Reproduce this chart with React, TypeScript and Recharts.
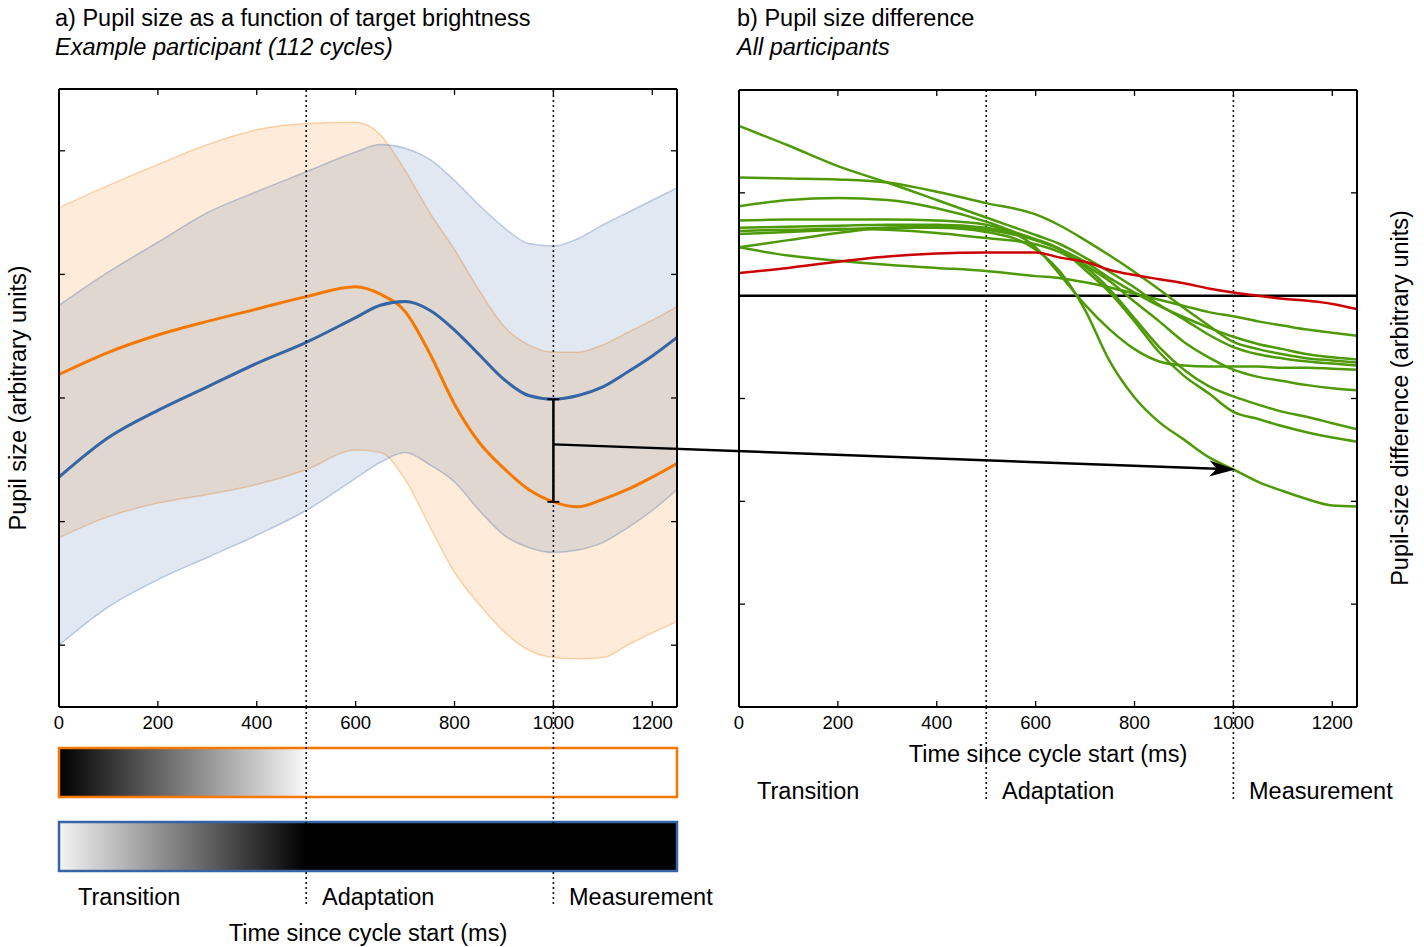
import React from 'react';
import { ComposedChart, LineChart, Line, Area, XAxis, YAxis, ReferenceLine } from 'recharts';

const FONT = '"Liberation Sans", Arial, Helvetica, sans-serif';

// shared time grid (ms since cycle start)
const times = [0, 100, 200, 300, 400, 500, 600, 650, 700, 750, 800, 850, 900, 950, 1000, 1050, 1100, 1150, 1200, 1250];
const xTicks = [0, 200, 400, 600, 800, 1000, 1200];
const phaseTimes = [500, 1000];

// a) example participant, target going to bright (orange) / to dark (blue)
const toBrightMean = [2.69, 2.87, 3.01, 3.12, 3.22, 3.32, 3.40, 3.34, 3.20, 2.86, 2.45, 2.14, 1.93, 1.76, 1.66, 1.62, 1.68, 1.76, 1.86, 1.97];
const toBrightLow = [1.37, 1.54, 1.65, 1.72, 1.80, 1.92, 2.08, 2.06, 1.84, 1.46, 1.09, 0.83, 0.61, 0.46, 0.40, 0.39, 0.40, 0.50, 0.60, 0.69];
const toBrightHigh = [4.04, 4.22, 4.39, 4.55, 4.67, 4.72, 4.73, 4.63, 4.34, 4.00, 3.70, 3.37, 3.08, 2.93, 2.87, 2.87, 2.93, 3.03, 3.13, 3.24];
const toDarkMean = [1.86, 2.18, 2.40, 2.59, 2.78, 2.95, 3.15, 3.25, 3.28, 3.21, 3.05, 2.85, 2.65, 2.52, 2.49, 2.52, 2.59, 2.71, 2.84, 2.99];
const toDarkLow = [0.50, 0.81, 1.03, 1.21, 1.39, 1.59, 1.85, 1.98, 2.06, 1.96, 1.82, 1.59, 1.39, 1.29, 1.25, 1.27, 1.33, 1.45, 1.59, 1.76];
const toDarkHigh = [3.25, 3.52, 3.76, 4.00, 4.17, 4.33, 4.49, 4.55, 4.52, 4.43, 4.26, 4.06, 3.88, 3.75, 3.73, 3.79, 3.90, 4.00, 4.10, 4.20];
const leftYTicks = [0.5, 1.5, 2.5, 3.5, 4.5];

// b) pupil-size difference per participant
const p01 = [0.60, 0.62, 0.64, 0.66, 0.66, 0.62, 0.45, 0.23, -0.14, -0.64, -0.99, -1.23, -1.40, -1.57, -1.69, -1.81, -1.90, -1.98, -2.04, -2.05];
const p02 = [0.73, 0.74, 0.74, 0.74, 0.73, 0.69, 0.47, 0.20, -0.09, -0.33, -0.52, -0.64, -0.68, -0.69, -0.69, -0.69, -0.70, -0.70, -0.71, -0.72];
const p03 = [0.66, 0.67, 0.68, 0.69, 0.69, 0.66, 0.55, 0.45, 0.25, 0.03, -0.25, -0.55, -0.78, -0.95, -1.13, -1.20, -1.27, -1.33, -1.38, -1.42];
const p04 = [0.63, 0.64, 0.65, 0.64, 0.61, 0.56, 0.50, 0.42, 0.28, 0.06, -0.22, -0.50, -0.72, -0.88, -0.98, -1.06, -1.13, -1.18, -1.24, -1.30];
const p05 = [0.87, 0.93, 0.95, 0.93, 0.85, 0.72, 0.54, 0.45, 0.30, 0.14, -0.06, -0.25, -0.45, -0.60, -0.72, -0.79, -0.83, -0.87, -0.90, -0.92];
const p06 = [1.65, 1.46, 1.26, 1.10, 0.93, 0.76, 0.59, 0.50, 0.37, 0.23, 0.08, -0.09, -0.23, -0.38, -0.50, -0.57, -0.61, -0.64, -0.66, -0.68];
const p07 = [1.15, 1.14, 1.13, 1.10, 1.01, 0.90, 0.79, 0.68, 0.54, 0.39, 0.23, 0.06, -0.12, -0.29, -0.45, -0.52, -0.57, -0.61, -0.63, -0.65];
const p08 = [0.47, 0.54, 0.61, 0.66, 0.67, 0.64, 0.54, 0.45, 0.33, 0.17, 0.03, -0.10, -0.21, -0.31, -0.40, -0.47, -0.52, -0.57, -0.60, -0.62];
const p09 = [0.47, 0.39, 0.34, 0.30, 0.27, 0.24, 0.19, 0.17, 0.13, 0.08, 0.02, -0.04, -0.10, -0.16, -0.20, -0.25, -0.29, -0.33, -0.36, -0.39];
const p10 = [0.22, 0.27, 0.33, 0.38, 0.41, 0.42, 0.42, 0.37, 0.33, 0.25, 0.20, 0.16, 0.12, 0.07, 0.03, 0.00, -0.03, -0.05, -0.08, -0.13];
const greenParticipants = [p01, p02, p03, p04, p05, p06, p07, p08, p09];
const redParticipant = p10;
const rightYTicks = [-3, -2, -1, 0, 1];

const ORANGE = '#f57900';
const BLUE = '#3465a4';
const GREEN = '#4e9a06';
const RED = '#cc0000';

// plot areas in page pixels
const CHART_H = 760;
const XAXIS_H = 40;
const LA = { left: 59, top: 89, width: 618, height: 618, yMin: 0, yMax: 5, chartX: 0, chartW: 700 };
const RA = { left: 739, top: 90, width: 618, height: 617, yMin: -4, yMax: 2, chartX: 680, chartW: 744 };

const px = (p: typeof LA, t: number) => p.left + (t / 1250) * p.width;
const py = (p: typeof LA, v: number) => p.top + ((p.yMax - v) / (p.yMax - p.yMin)) * p.height;
const marginOf = (p: typeof LA) => ({
  top: p.top,
  left: p.left - p.chartX,
  right: p.chartW - (p.left - p.chartX) - p.width,
  bottom: CHART_H - p.top - p.height - XAXIS_H,
});

const leftRows = times.map((t, i) => ({
  t,
  bright: toBrightMean[i],
  brightBand: [toBrightLow[i], toBrightHigh[i]],
  dark: toDarkMean[i],
  darkBand: [toDarkLow[i], toDarkHigh[i]],
}));

const rightRows = times.map((t, i) => {
  const row: any = { t, red: redParticipant[i] };
  greenParticipants.forEach((g, k) => (row['g' + k] = g[i]));
  return row;
});

const axisLine = { stroke: '#000', strokeWidth: 2 };
const tickLine = { stroke: '#000', strokeWidth: 1.3 };
const tickFont = { fill: '#000', fontSize: 18.5, fontFamily: FONT };
const noLabel = { fontSize: 0 };
const blank = () => '';

// matplotlib-like box: labelled bottom axis + mirrored axes for inward ticks on all four sides
function frame(yDomain: number[], yTicks: number[]) {
  const xProps = { dataKey: 't', type: 'number' as const, domain: [0, 1250], ticks: xTicks, interval: 0 as const, allowDataOverflow: true };
  const yProps = { type: 'number' as const, domain: yDomain, ticks: yTicks, interval: 0 as const, allowDataOverflow: true };
  return [
    <XAxis key="xb" xAxisId="b" {...xProps} height={XAXIS_H} tickSize={0} tickMargin={9}
      axisLine={axisLine} tickLine={false} tick={tickFont} />,
    <XAxis key="xbm" xAxisId="bm" {...xProps} mirror tickSize={6} axisLine={false} tickLine={tickLine}
      tick={noLabel} tickFormatter={blank} />,
    <XAxis key="xt" xAxisId="t" orientation="top" {...xProps} mirror tickSize={6} axisLine={axisLine} tickLine={tickLine}
      tick={noLabel} tickFormatter={blank} />,
    <YAxis key="yl" yAxisId="l" {...yProps} mirror tickSize={6} axisLine={axisLine} tickLine={tickLine}
      tick={noLabel} tickFormatter={blank} />,
    <YAxis key="yr" yAxisId="r" orientation="right" {...yProps} mirror tickSize={6} axisLine={axisLine} tickLine={tickLine}
      tick={noLabel} tickFormatter={blank} />,
  ];
}

const dotted = { stroke: '#000', strokeWidth: 1.5, strokeDasharray: '2 3' };

const i1000 = times.indexOf(1000);
const darkAt1000 = toDarkMean[i1000];
const brightAt1000 = toBrightMean[i1000];
const arrowStartValue = darkAt1000 - 0.44 * (darkAt1000 - brightAt1000);
const arrowEndValue = p01[i1000];

function Arrow() {
  const x1 = px(LA, 1000);
  const y1 = py(LA, arrowStartValue);
  const x2 = px(RA, 1000) + 2;
  const y2 = py(RA, arrowEndValue);
  const len = Math.hypot(x2 - x1, y2 - y1);
  const ux = (x2 - x1) / len;
  const uy = (y2 - y1) / len;
  const nx = -uy;
  const ny = ux;
  const L = 26;
  const W = 8;
  const head = [
    [x2, y2],
    [x2 - L * ux + W * nx, y2 - L * uy + W * ny],
    [x2 - 0.72 * L * ux, y2 - 0.72 * L * uy],
    [x2 - L * ux - W * nx, y2 - L * uy - W * ny],
  ];
  return (
    <g>
      <line x1={x1} y1={y1} x2={x2 - 0.72 * L * ux} y2={y2 - 0.72 * L * uy} stroke="#000" strokeWidth={2.5} />
      <polygon points={head.map((p) => p.join(',')).join(' ')} fill="#000" />
    </g>
  );
}

const bigText = { fontFamily: FONT, fontSize: 23.5, fill: '#000' };

export default function App() {
  const barTop1 = 748;
  const barTop2 = 822;
  const barH = 49;
  return (
    <div style={{ position: 'absolute', left: 0, top: 0, width: 1424, height: 947, background: '#fff', fontFamily: FONT }}>
      <div style={{ position: 'absolute', left: LA.chartX, top: 0 }}>
        <ComposedChart width={LA.chartW} height={CHART_H} data={leftRows} margin={marginOf(LA)}>
          {frame([0, 5], leftYTicks)}
          <Area xAxisId="b" yAxisId="l" type="monotone" dataKey="brightBand" fill={ORANGE} fillOpacity={0.15}
            stroke={ORANGE} strokeOpacity={0.3} strokeWidth={1.5} isAnimationActive={false} />
          <Area xAxisId="b" yAxisId="l" type="monotone" dataKey="darkBand" fill={BLUE} fillOpacity={0.15}
            stroke={BLUE} strokeOpacity={0.3} strokeWidth={1.5} isAnimationActive={false} />
          <Line xAxisId="b" yAxisId="l" type="monotone" dataKey="bright" stroke={ORANGE} strokeWidth={3} dot={false} isAnimationActive={false} />
          <Line xAxisId="b" yAxisId="l" type="monotone" dataKey="dark" stroke={BLUE} strokeWidth={3} dot={false} isAnimationActive={false} />
          {phaseTimes.map((t) => (
            <ReferenceLine key={t} xAxisId="b" yAxisId="l" x={t} {...dotted} />
          ))}
          <ReferenceLine xAxisId="b" yAxisId="l" stroke="#000" strokeWidth={2.5}
            segment={[{ x: 1000, y: darkAt1000 }, { x: 1000, y: brightAt1000 }]} />
          <ReferenceLine xAxisId="b" yAxisId="l" stroke="#000" strokeWidth={2}
            segment={[{ x: 988, y: darkAt1000 }, { x: 1012, y: darkAt1000 }]} />
          <ReferenceLine xAxisId="b" yAxisId="l" stroke="#000" strokeWidth={2}
            segment={[{ x: 988, y: brightAt1000 }, { x: 1012, y: brightAt1000 }]} />
        </ComposedChart>
      </div>

      <div style={{ position: 'absolute', left: RA.chartX, top: 0 }}>
        <LineChart width={RA.chartW} height={CHART_H} data={rightRows} margin={marginOf(RA)}>
          {frame([-4, 2], rightYTicks)}
          {phaseTimes.map((t) => (
            <ReferenceLine key={t} xAxisId="b" yAxisId="l" x={t} {...dotted} />
          ))}
          <ReferenceLine xAxisId="b" yAxisId="l" y={0} stroke="#000" strokeWidth={2.5} />
          {greenParticipants.map((_, k) => (
            <Line key={k} xAxisId="b" yAxisId="l" type="monotone" dataKey={'g' + k} stroke={GREEN} strokeWidth={2.5}
              dot={false} isAnimationActive={false} />
          ))}
          <Line xAxisId="b" yAxisId="l" type="monotone" dataKey="red" stroke={RED} strokeWidth={2.5} dot={false} isAnimationActive={false} />
        </LineChart>
      </div>

      <svg width={1424} height={947} style={{ position: 'absolute', left: 0, top: 0, pointerEvents: 'none' }}>
        <defs>
          <linearGradient id="gBright" gradientUnits="userSpaceOnUse" x1={LA.left} x2={LA.left + LA.width} y1={0} y2={0}>
            <stop offset="0" stopColor="#000" />
            <stop offset={(px(LA, 500) - LA.left + 6) / LA.width} stopColor="#fff" />
            <stop offset="1" stopColor="#fff" />
          </linearGradient>
          <linearGradient id="gDark" gradientUnits="userSpaceOnUse" x1={LA.left} x2={LA.left + LA.width} y1={0} y2={0}>
            <stop offset="0" stopColor="#f4f4f4" />
            <stop offset={(px(LA, 500) - LA.left) / LA.width} stopColor="#000" />
            <stop offset="1" stopColor="#000" />
          </linearGradient>
        </defs>

        {/* titles */}
        <text x={55} y={26} {...bigText}>a) Pupil size as a function of target brightness</text>
        <text x={55} y={55} {...bigText} fontStyle="italic">Example participant (112 cycles)</text>
        <text x={737} y={26} {...bigText}>b) Pupil size difference</text>
        <text x={737} y={55} {...bigText} fontStyle="italic">All participants</text>

        {/* axis titles */}
        <text x={18} y={398} {...bigText} textAnchor="middle" dominantBaseline="central" transform="rotate(-90 18 398)">
          Pupil size (arbitrary units)
        </text>
        <text x={1400} y={398} {...bigText} textAnchor="middle" dominantBaseline="central" transform="rotate(-90 1400 398)">
          Pupil-size difference (arbitrary units)
        </text>
        <text x={px(RA, 625)} y={762} {...bigText} textAnchor="middle">Time since cycle start (ms)</text>
        <text x={px(LA, 625)} y={941} {...bigText} textAnchor="middle">Time since cycle start (ms)</text>

        {/* stimulus bars */}
        <rect x={LA.left} y={barTop1} width={LA.width} height={barH} fill="url(#gBright)" stroke={ORANGE} strokeWidth={2.5} />
        <rect x={LA.left} y={barTop2} width={LA.width} height={barH} fill="url(#gDark)" stroke={BLUE} strokeWidth={2.5} />

        {/* phase separators below the plots */}
        {phaseTimes.map((t) => (
          <line key={'l' + t} x1={px(LA, t)} x2={px(LA, t)} y1={LA.top + LA.height} y2={907} {...dotted} />
        ))}
        {phaseTimes.map((t) => (
          <line key={'r' + t} x1={px(RA, t)} x2={px(RA, t)} y1={RA.top + RA.height} y2={800} {...dotted} />
        ))}

        {/* phase labels */}
        <text x={78} y={905} {...bigText}>Transition</text>
        <text x={322} y={905} {...bigText}>Adaptation</text>
        <text x={569} y={905} {...bigText}>Measurement</text>
        <text x={757} y={799} {...bigText}>Transition</text>
        <text x={1002} y={799} {...bigText}>Adaptation</text>
        <text x={1249} y={799} {...bigText}>Measurement</text>

        <Arrow />
      </svg>
    </div>
  );
}
